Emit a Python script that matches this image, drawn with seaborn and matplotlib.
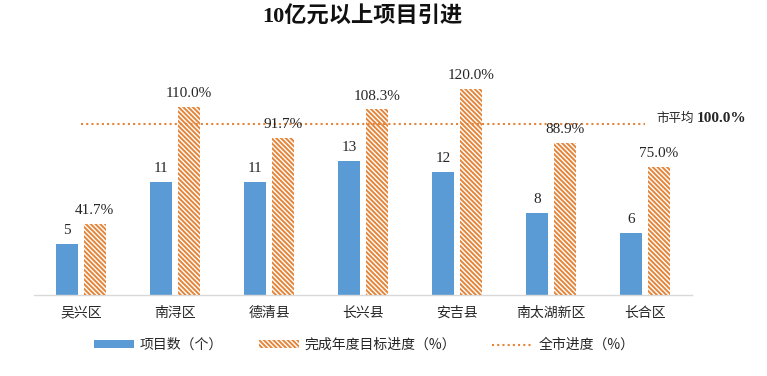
import numpy as np
import pandas as pd
import matplotlib
matplotlib.use("Agg")
import matplotlib.pyplot as plt
import seaborn as sns
from matplotlib.patches import Patch
from matplotlib.lines import Line2D

# ---- data ----
categories = ["吴兴区", "南浔区", "德清县", "长兴县", "安吉县", "南太湖新区", "长合区"]
project_counts = [5, 11, 11, 13, 12, 8, 6]
progress_pct = [41.7, 110.0, 91.7, 108.3, 120.0, 88.9, 75.0]
city_avg_pct = 100.0
title_text = "10亿元以上项目引进"
series_names = ["项目数（个）", "完成年度目标进度（%）", "全市进度（%）"]
avg_label_cn = "市平均"

sns.set_theme(style="white")
plt.rcParams["font.family"] = ["Noto Sans CJK SC", "DejaVu Sans"]
plt.rcParams["hatch.linewidth"] = 1.4
plt.rcParams["axes.unicode_minus"] = False

BLUE = "#5B9BD5"
ORANGE = "#E4853A"
TXT = "#262626"
SERIF = ["Liberation Serif", "Noto Sans CJK SC"]
HATCH = "\\\\\\\\\\\\\\"

fig = plt.figure(figsize=(7.67, 3.76), dpi=100)
ax1 = fig.add_axes([34 / 767, 1 - 295 / 376, 658 / 767, 257 / 376])
ax2 = ax1.twinx()

df_count = pd.DataFrame({"cat": categories, "val": project_counts, "series": series_names[0]})
df_pct = pd.DataFrame({"cat": categories, "val": progress_pct, "series": series_names[1]})
hue_order = series_names[:2]
palette = {series_names[0]: BLUE, series_names[1]: ORANGE}

sns.barplot(data=df_count, x="cat", y="val", hue="series", hue_order=hue_order,
            palette=palette, order=categories, width=0.585, gap=0.217,
            dodge=True, legend=False, ax=ax1, linewidth=0, saturation=1)
sns.barplot(data=df_pct, x="cat", y="val", hue="series", hue_order=hue_order,
            palette=palette, order=categories, width=0.585, gap=0.217,
            dodge=True, legend=False, ax=ax2, linewidth=0, saturation=1)

for p in ax2.patches:
    p.set_facecolor("white")
    p.set_edgecolor(ORANGE)
    p.set_hatch(HATCH)
    p.set_linewidth(0)

pos = np.arange(len(categories))
sns.lineplot(x=pos, y=[city_avg_pct] * len(categories), ax=ax2, color=ORANGE,
             linestyle=(0, (1, 1.5)), linewidth=1.5, legend=False)

ax1.set_ylim(0, 25)
ax2.set_ylim(0, 150)
ax1.set_xlim(-0.5, len(categories) - 0.5)

# bar labels
for c in ax1.containers:
    if len(c) == len(categories):
        ax1.bar_label(c, labels=[f"{v:d}" for v in project_counts], padding=5,
                      fontsize=11, family=SERIF, color=TXT)
for c in ax2.containers:
    if hasattr(c, "patches") and len(c) == len(categories):
        ax2.bar_label(c, labels=[f"{v:.1f}%" for v in progress_pct], padding=5,
                      fontsize=11, family=SERIF, color=TXT)

# average annotation
ax2.annotate(avg_label_cn, xy=(pos[-1], city_avg_pct), xytext=(8.5, 4),
             textcoords="offset points", ha="left", va="center", fontsize=9, color=TXT)
ax2.annotate(f"{city_avg_pct:.1f}%", xy=(pos[-1], city_avg_pct), xytext=(37, 4),
             textcoords="offset points", ha="left", va="center", fontsize=11,
             weight="bold", family=SERIF, color=TXT)

# axes styling
for ax in (ax1, ax2):
    for s in ["top", "right", "left"]:
        ax.spines[s].set_visible(False)
    ax.set_ylabel("")
    ax.set_xlabel("")
    ax.set_yticks([])
ax2.spines["bottom"].set_visible(False)
ax1.spines["bottom"].set_color("#D9D9D9")
ax1.spines["bottom"].set_linewidth(1.0)
ax1.set_xticks(pos)
ax1.set_xticklabels(categories, fontsize=10, color=TXT)
ax1.tick_params(axis="x", length=0, pad=8)
ax2.tick_params(axis="x", length=0)

fig.text(362 / 767, 1 - 17 / 376, title_text, ha="center", va="center",
         fontsize=16, weight="bold", family=SERIF, color="#111111")

handles = [
    Patch(facecolor=BLUE, edgecolor="none"),
    Patch(facecolor="white", edgecolor=ORANGE, hatch=HATCH, linewidth=0),
    Line2D([0], [0], color=ORANGE, linestyle=(0, (1, 1.5)), linewidth=1.5),
]
fig.legend(handles, series_names, loc="center", bbox_to_anchor=(364 / 767, 31 / 376),
           ncol=3, frameon=False, fontsize=10, handlelength=2.9, handleheight=0.5,
           handletextpad=0.4, columnspacing=2.6, labelcolor=TXT)

fig.savefig("out.png", dpi=100)
